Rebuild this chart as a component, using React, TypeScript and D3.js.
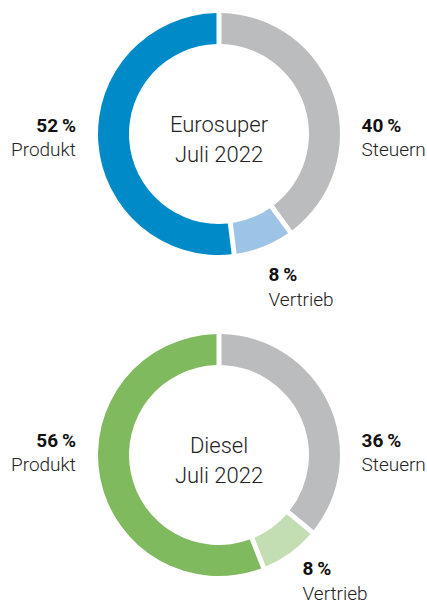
import React from "react";
import * as d3 from "d3";

// Anteile am Spritpreis, Juli 2022 (Reihenfolge im Uhrzeigersinn ab 12 Uhr)
const categories = ["Steuern", "Vertrieb", "Produkt"];
const euroSuperValues = [40, 8, 52];
const dieselValues = [36, 8, 56];
const chartTitles = ["Eurosuper", "Diesel"];
const subTitle = "Juli 2022";

const euroColors = ["#bbbcbe", "#9dc3e6", "#008bc8"];
const dieselColors = ["#bbbcbe", "#c4deb3", "#80ba5f"];

const W = 427;
const H = 607;
const outerR = 121;
const innerR = 90;

type LabelPos = { x: number; y: number; anchor: string };

const Donut = ({
  cx,
  cy,
  title,
  values,
  colors,
  labels,
}: {
  cx: number;
  cy: number;
  title: string;
  values: number[];
  colors: string[];
  labels: LabelPos[];
}) => {
  const pie = d3
    .pie<number>()
    .sort(null)
    .value((d) => d);
  const arc = d3
    .arc<d3.PieArcDatum<number>>()
    .innerRadius(innerR)
    .outerRadius(outerR)
    .padAngle(0.05)
    .padRadius(100);
  const arcs = pie(values);

  return (
    <g transform={`translate(${cx},${cy})`}>
      {arcs.map((a, i) => (
        <path key={i} d={arc(a) || ""} fill={colors[i]} />
      ))}
      <text
        textAnchor="middle"
        fontFamily="Roboto"
        fontWeight={300}
        fontSize={22}
        fill="#222"
      >
        <tspan x={0} y={-2}>
          {title}
        </tspan>
        <tspan x={0} y={28}>
          {subTitle}
        </tspan>
      </text>
      {labels.map((l, i) => (
        <text
          key={i}
          textAnchor={l.anchor}
          fontFamily="Roboto"
          fontSize={19}
          fill="#222"
        >
          <tspan x={l.x} y={l.y} fontWeight={700} fill="#111">
            {values[i] + "\u2009%"}
          </tspan>
          <tspan x={l.x} y={l.y + 24.5} fontWeight={300}>
            {categories[i]}
          </tspan>
        </text>
      ))}
    </g>
  );
};

export default function App() {
  return (
    <svg
      width={W}
      height={H}
      style={{ position: "absolute", left: 0, top: 0, background: "#fff" }}
    >
      <Donut
        cx={219}
        cy={134}
        title={chartTitles[0]}
        values={euroSuperValues}
        colors={euroColors}
        labels={[
          { x: 142.5, y: -2.3, anchor: "start" },
          { x: 49.5, y: 147, anchor: "start" },
          { x: -143, y: -2.3, anchor: "end" },
        ]}
      />
      <Donut
        cx={219}
        cy={455}
        title={chartTitles[1]}
        values={dieselValues}
        colors={dieselColors}
        labels={[
          { x: 142.5, y: -8.3, anchor: "start" },
          { x: 83.5, y: 120, anchor: "start" },
          { x: -143, y: -8.3, anchor: "end" },
        ]}
      />
    </svg>
  );
}
